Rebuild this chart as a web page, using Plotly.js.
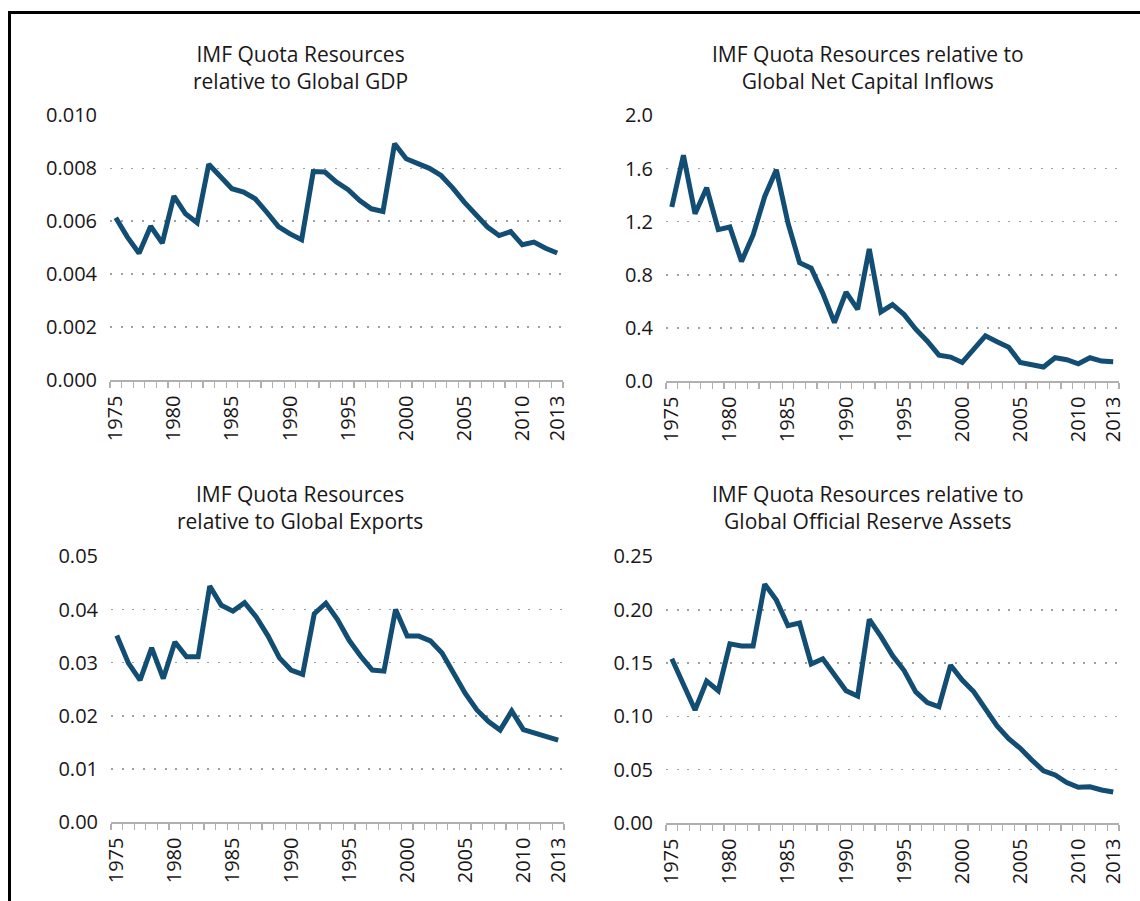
<!DOCTYPE html>
<html>
<head>
<meta charset="utf-8">
<script src="https://cdn.plot.ly/plotly-3.0.1.min.js"></script>
<style>html,body{margin:0;padding:0;background:#fff;}#chart{width:1140px;height:901px;}</style>
</head>
<body>
<div id="chart"></div>
<script>
const years = [1975,1976,1977,1978,1979,1980,1981,1982,1983,1984,1985,1986,1987,1988,1989,1990,1991,1992,1993,1994,1995,1996,1997,1998,1999,2000,2001,2002,2003,2004,2005,2006,2007,2008,2009,2010,2011,2012,2013];
const yearLabels = [1975,1980,1985,1990,1995,2000,2005,2010,2013];

const gdpRatio = [0.00613,0.0054,0.00479,0.00581,0.00517,0.00695,0.00628,0.00594,0.00815,0.00767,0.00723,0.0071,0.00685,0.00634,0.0058,0.00552,0.0053,0.00788,0.00786,0.00748,0.00719,0.00678,0.00647,0.00637,0.00893,0.00836,0.00817,0.008,0.00773,0.00726,0.00672,0.00625,0.00578,0.00546,0.00561,0.00511,0.00521,0.00498,0.0048];
const capitalRatio = [1.31,1.70,1.26,1.455,1.14,1.16,0.90,1.10,1.39,1.59,1.19,0.89,0.85,0.66,0.44,0.67,0.54,0.995,0.52,0.575,0.50,0.39,0.30,0.195,0.18,0.14,0.24,0.34,0.295,0.255,0.14,0.12,0.105,0.175,0.16,0.13,0.175,0.15,0.145];
const exportsRatio = [0.0351,0.0299,0.0267,0.0328,0.027,0.0339,0.0311,0.0311,0.0444,0.0408,0.0397,0.0413,0.0386,0.0351,0.0309,0.0286,0.0278,0.0392,0.0412,0.0381,0.0342,0.0312,0.0286,0.0284,0.04,0.035,0.035,0.0341,0.0318,0.0279,0.0242,0.0211,0.0189,0.0173,0.0209,0.0174,0.0167,0.0159,0.0154];
const reservesRatio = [0.154,0.130,0.106,0.133,0.124,0.168,0.166,0.166,0.224,0.209,0.185,0.1875,0.149,0.154,0.139,0.124,0.119,0.191,0.175,0.157,0.143,0.123,0.113,0.109,0.148,0.134,0.123,0.106,0.091,0.079,0.070,0.059,0.049,0.045,0.038,0.0335,0.034,0.031,0.029];

const titles = [
  "IMF Quota Resources<br>relative to Global GDP",
  "IMF Quota Resources relative to<br>Global Net Capital Inflows",
  "IMF Quota Resources<br>relative to Global Exports",
  "IMF Quota Resources relative to<br>Global Official Reserve Assets"
];
const yTicks = [
  [0,0.002,0.004,0.006,0.008,0.010],
  [0,0.4,0.8,1.2,1.6,2.0],
  [0,0.01,0.02,0.03,0.04,0.05],
  [0,0.05,0.10,0.15,0.20,0.25]
];
const yTickText = [
  ["0.000","0.002","0.004","0.006","0.008","0.010"],
  ["0.0","0.4","0.8","1.2","1.6","2.0"],
  ["0.00","0.01","0.02","0.03","0.04","0.05"],
  ["0.00","0.05","0.10","0.15","0.20","0.25"]
];
const series = [gdpRatio, capitalRatio, exportsRatio, reservesRatio];

const W = 1140, H = 901;
const xDomains = [[110/W, 563/W],[666/W,1119/W],[111/W,564/W],[666/W,1119/W]];
const yDomains = [[1-380/H, 1-115/H],[1-381/H,1-115/H],[1-822/H,1-556/H],[1-823/H,1-556/H]];
const titleX = [300/W, 868/W, 300/W, 868/W];
const titleY = [1-68/H, 1-68/H, 1-508/H, 1-508/H];

const lineColor = "#124d73";
const fontFam = "'Open Sans', 'Noto Sans', sans-serif";
const boundaries = years.map(y => y - 0.5).concat([years[years.length-1] + 0.5]);

const data = [];
const layout = {
  width: W, height: H,
  margin: {l:0, r:0, t:0, b:0},
  paper_bgcolor: "#fff", plot_bgcolor: "#fff",
  showlegend: false,
  font: {family: fontFam, color: "#1a1718"},
  annotations: [],
  shapes: [{
    type: "rect", xref: "paper", yref: "paper",
    x0: 9.5/W, x1: 1.2, y0: -0.2, y1: 1-12.5/H,
    line: {color: "#000", width: 3}, fillcolor: "rgba(0,0,0,0)", layer: "above"
  }]
};

for (let i = 0; i < 4; i++) {
  const n = i + 1;
  const xa = n === 1 ? "xaxis" : "xaxis" + n;
  const ya = n === 1 ? "yaxis" : "yaxis" + n;
  data.push({
    x: years, y: series[i], type: "scatter", mode: "lines",
    xaxis: "x" + (n === 1 ? "" : n), yaxis: "y" + (n === 1 ? "" : n),
    line: {color: lineColor, width: 5}, hoverinfo: "skip"
  });
  const yt = yTicks[i];
  layout[xa] = {
    domain: xDomains[i], anchor: "y" + (n === 1 ? "" : n),
    range: [years[0]-0.5, years[years.length-1]+0.5],
    tickmode: "array", tickvals: yearLabels, ticktext: yearLabels.map(String),
    ticks: "", tickangle: -90, ticklabelstandoff: 6,
    tickfont: {size: 20, color: "#1a1718", family: fontFam},
    showgrid: false, zeroline: false,
    showline: true, linecolor: "#b0b0b0", linewidth: 1.5,
    minor: {tickmode: "array", tickvals: boundaries, ticks: "outside", ticklen: 6, tickcolor: "#b0b0b0", tickwidth: 1.2, showgrid: false},
    fixedrange: true
  };
  layout[ya] = {
    domain: yDomains[i], anchor: "x" + (n === 1 ? "" : n),
    range: [yt[0], yt[yt.length-1] * 1.0015],
    tickmode: "array", tickvals: yt, ticktext: yTickText[i],
    ticks: "", ticklabelstandoff: 12,
    tickfont: {size: 20, color: "#1a1718", family: fontFam},
    showgrid: true, gridcolor: "#a0a0a0", gridwidth: 1.6, griddash: "2px,8.7px",
    zeroline: false, showline: false, fixedrange: true
  };
  layout.annotations.push({
    text: titles[i], xref: "paper", yref: "paper",
    x: titleX[i], y: titleY[i], xanchor: "center", yanchor: "middle",
    showarrow: false, align: "center",
    font: {size: 21, color: "#1a1718", family: fontFam}
  });
}

Plotly.newPlot("chart", data, layout, {staticPlot: true, displayModeBar: false});
</script>
</body>
</html>
